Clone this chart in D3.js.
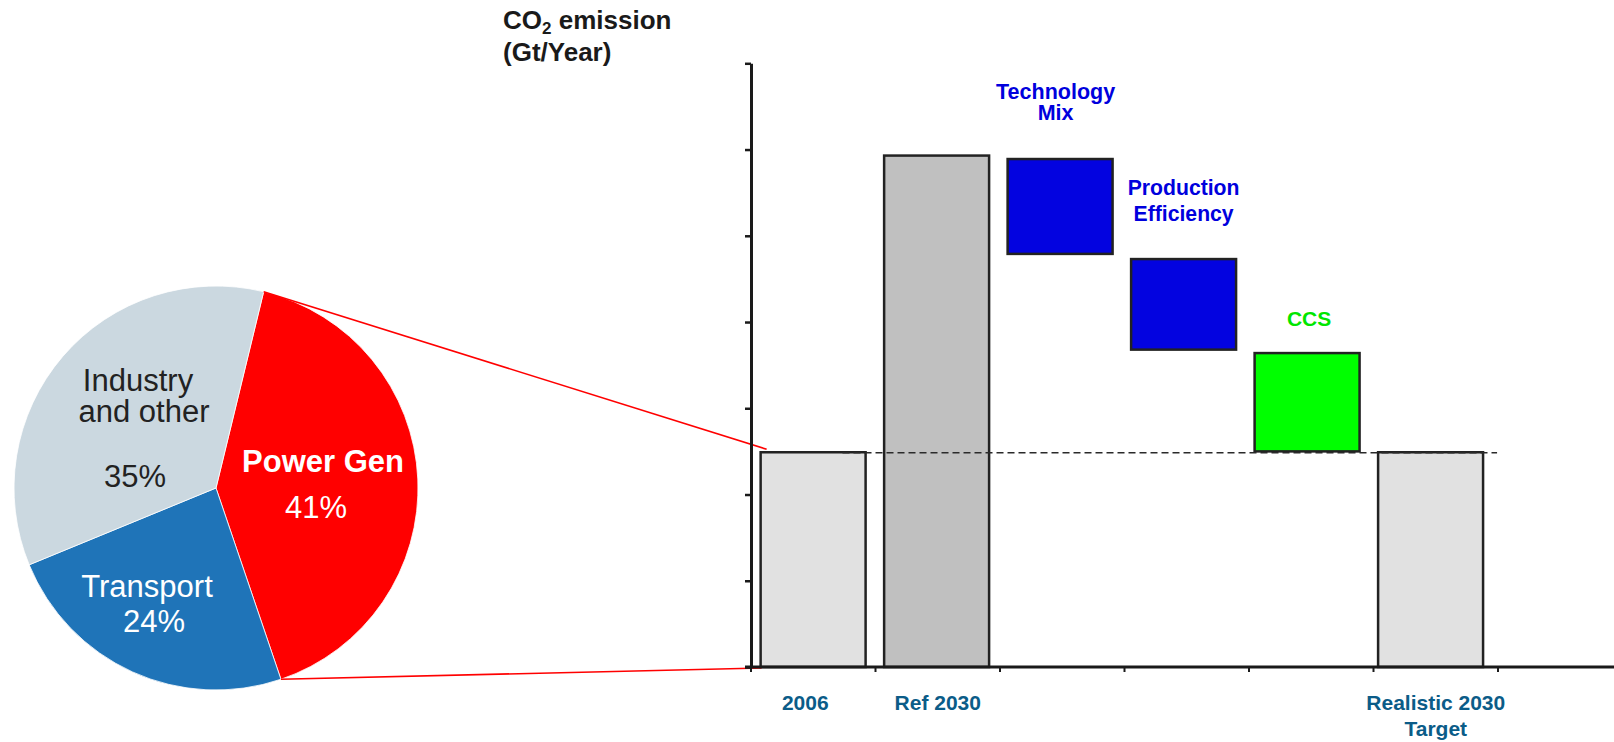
<!DOCTYPE html>
<html>
<head>
<meta charset="utf-8">
<script src="https://cdn.jsdelivr.net/npm/d3@7"></script>
<style>
  html, body { margin: 0; padding: 0; background: #fff; }
  svg { display: block; font-family: "Liberation Sans", Arial, Helvetica, sans-serif; }
</style>
</head>
<body>
<svg id="chart" width="1614" height="742"></svg>
<script>
// Emission sectors (pie)
const sectors = ["Power Gen", "Transport", "Industry and other"];
const sectorShares = [41, 24, 35];

// Waterfall steps: each bar runs from barFrom to barTo (Gt/Year, axis units)
const categories = ["2006", "Ref 2030", "Technology Mix", "Production Efficiency", "CCS", "Realistic 2030 Target"];
const barFrom = [0, 0, 4.79, 3.68, 2.50, 0];
const barTo   = [2.49, 5.93, 5.89, 4.73, 3.64, 2.49];

// Category labels under the axis, step labels above the bars
const axisLabels = [["2006"], ["Ref 2030"], [], [], [], ["Realistic 2030", "Target"]];
const stepLabels = [[], [], ["Technology", "Mix"], ["Production", "Efficiency"], ["CCS"], []];

// Value axis tick positions
const yTicks = [0, 1, 2, 3, 4, 5, 6, 7];

const svg = d3.select("#chart");

// ---------- Waterfall scales ----------
// bars
const x = d3.scaleBand()
  .domain(categories)
  .range([751, 1492.7])
  .paddingInner(0.15)
  .paddingOuter(0.078);
// category slots (tick marks sit on their boundaries)
const slot = d3.scaleBand().domain(categories).range([751, 1498]).padding(0);
const y = d3.scaleLinear().domain([0, 7]).range([667, 63.3]);

const bars = categories.map((c, i) => ({ cat: c, from: barFrom[i], to: barTo[i], i }));
const barFill = ["#e1e1e1", "#c0c0c0", "#0303e0", "#0303e0", "#00ff00", "#e1e1e1"];
const stepColor = ["#0000dd", "#0000dd", "#0000dd", "#0000dd", "#00e600", "#0000dd"];

// ---------- Emission share pie ----------
const pieCx = 216, pieCy = 488, pieR = 202;
const startA = 13.65 * Math.PI / 180;
const pie = d3.pie().sort(null).value(d => d)
  .startAngle(startA).endAngle(startA + 2 * Math.PI);
const arcs = pie(sectorShares);
const arc = d3.arc().innerRadius(0).outerRadius(pieR);
const sectorFill = ["#ff0000", "#1f74b8", "#cbd8e0"];

const pieG = svg.append("g").attr("transform", `translate(${pieCx},${pieCy})`);
pieG.selectAll("path")
  .data(arcs)
  .join("path")
  .attr("d", arc)
  .attr("fill", (d, i) => sectorFill[i])
  .attr("stroke", "#ffffff")
  .attr("stroke-width", 0.8);

// Connectors from the Power Gen slice to the 2006 bar
const pg = arcs[0];
const onCircle = a => [pieCx + pieR * Math.sin(a), pieCy - pieR * Math.cos(a)];
const pA = onCircle(pg.startAngle);
const pB = onCircle(pg.endAngle);
const bx0 = x("2006");
svg.append("line")
  .attr("x1", pA[0]).attr("y1", pA[1])
  .attr("x2", bx0 + 6).attr("y2", y(barTo[0]) - 3)
  .attr("stroke", "#ff0000").attr("stroke-width", 1.6);
svg.append("line")
  .attr("x1", pB[0]).attr("y1", pB[1])
  .attr("x2", bx0 + 1).attr("y2", y(0) + 1)
  .attr("stroke", "#ff0000").attr("stroke-width", 1.6);

// Pie labels (offsets from the pie centre)
const pieText = [
  { t: "Industry", dx: -78, dy: -97, w: "normal", c: "#222222" },
  { t: "and other", dx: -72, dy: -66, w: "normal", c: "#222222" },
  { t: "35%", dx: -81, dy: -1, w: "normal", c: "#222222" },
  { t: "Power Gen", dx: 107, dy: -16, w: "bold", c: "#ffffff" },
  { t: "41%", dx: 100, dy: 30, w: "normal", c: "#ffffff" },
  { t: "Transport", dx: -69, dy: 109, w: "normal", c: "#ffffff" },
  { t: "24%", dx: -62, dy: 144, w: "normal", c: "#ffffff" }
];
pieG.selectAll("text")
  .data(pieText)
  .join("text")
  .attr("x", d => d.dx).attr("y", d => d.dy)
  .attr("text-anchor", "middle")
  .attr("font-size", 31)
  .attr("font-weight", d => d.w)
  .attr("fill", d => d.c)
  .text(d => d.t);

// ---------- Bars ----------
const bw = x.bandwidth();
svg.append("g").selectAll("rect")
  .data(bars)
  .join("rect")
  .attr("x", d => x(d.cat))
  .attr("y", d => y(d.to))
  .attr("width", bw)
  .attr("height", d => y(d.from) - y(d.to))
  .attr("fill", d => barFill[d.i])
  .attr("stroke", "#222222")
  .attr("stroke-width", 2.5);

// Reference level of 2006 carried across the chart
svg.append("line")
  .attr("x1", x("2006") + bw * 0.78)
  .attr("x2", x("Realistic 2030 Target") + bw + 14)
  .attr("y1", y(barTo[0]) + 0.5).attr("y2", y(barTo[0]) + 0.5)
  .attr("stroke", "#2a2a2a")
  .attr("stroke-width", 1.6)
  .attr("stroke-dasharray", "7,4");

// Value axis (no tick labels)
const yAxis = svg.append("g")
  .attr("transform", "translate(751,0)")
  .call(d3.axisLeft(y).tickValues(yTicks).tickSize(6).tickSizeOuter(0).tickFormat(""));
yAxis.select(".domain").attr("stroke", "#1a1a1a").attr("stroke-width", 3);
yAxis.selectAll(".tick line").attr("stroke", "#1a1a1a").attr("stroke-width", 2.5);

// Category axis with ticks on slot boundaries
const boundaries = categories.map(c => slot(c))
  .concat([slot(categories[categories.length - 1]) + slot.bandwidth()]);
const xAxisG = svg.append("g");
xAxisG.append("line")
  .attr("x1", 745).attr("x2", 1614)
  .attr("y1", y(0)).attr("y2", y(0))
  .attr("stroke", "#1a1a1a").attr("stroke-width", 3);
xAxisG.selectAll("line.tk")
  .data(boundaries)
  .join("line")
  .attr("class", "tk")
  .attr("x1", d => d).attr("x2", d => d)
  .attr("y1", y(0)).attr("y2", y(0) + 5)
  .attr("stroke", "#1a1a1a").attr("stroke-width", 2);

// Category labels
const labelShift = { "2006": -8 };
const catG = svg.append("g");
bars.forEach(d => {
  axisLabels[d.i].forEach((line, k) => {
    catG.append("text")
      .attr("x", slot(d.cat) + slot.bandwidth() / 2 + (labelShift[d.cat] || 0))
      .attr("y", 710 + k * 26)
      .attr("text-anchor", "middle")
      .attr("font-size", 21)
      .attr("font-weight", "bold")
      .attr("fill", "#0b5c88")
      .text(line);
  });
});

// Step labels above the reduction bars
const stepGap = { "Technology Mix": 39, "Production Efficiency": 38, "CCS": 27 };
const stepLead = { "Technology Mix": 21, "Production Efficiency": 26, "CCS": 26 };
const stepShift = { "Technology Mix": -4.5, "Production Efficiency": 0, "CCS": 2 };
const stepSize = { "Technology Mix": 21.5, "Production Efficiency": 21.2, "CCS": 21 };
const stepG = svg.append("g");
bars.forEach(d => {
  const lines = stepLabels[d.i];
  if (!lines.length) return;
  const lastBase = y(d.to) - stepGap[d.cat];
  lines.forEach((line, k) => {
    stepG.append("text")
      .attr("x", x(d.cat) + bw / 2 + stepShift[d.cat])
      .attr("y", lastBase - (lines.length - 1 - k) * stepLead[d.cat])
      .attr("text-anchor", "middle")
      .attr("font-size", stepSize[d.cat])
      .attr("font-weight", "bold")
      .attr("fill", stepColor[d.i])
      .text(line);
  });
});

// Axis title
const title = svg.append("g").attr("fill", "#1a1a1a").attr("font-weight", "bold");
const t1 = title.append("text").attr("x", 503).attr("y", 29).attr("font-size", 26);
t1.append("tspan").text("CO");
t1.append("tspan").attr("font-size", 17).attr("dy", 5).text("2");
t1.append("tspan").attr("dy", -5).text(" emission");
title.append("text").attr("x", 503).attr("y", 61).attr("font-size", 26).text("(Gt/Year)");
</script>
</body>
</html>
